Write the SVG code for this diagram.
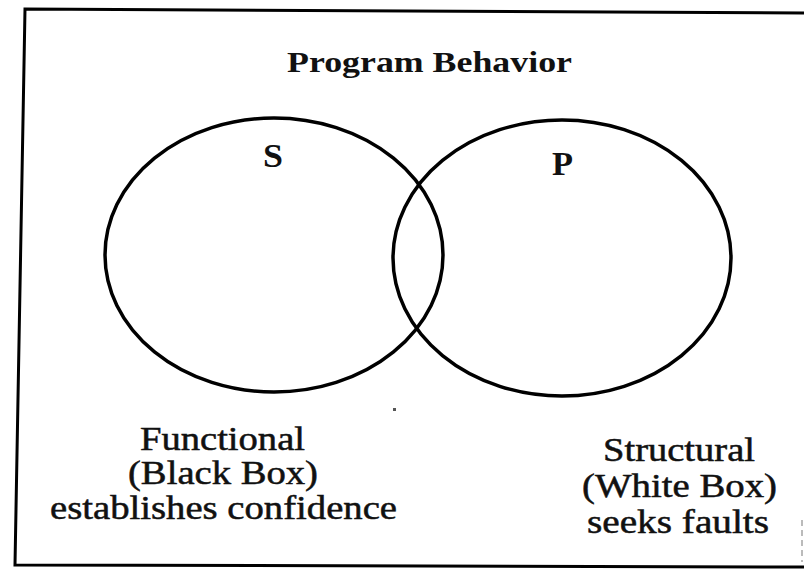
<svg xmlns="http://www.w3.org/2000/svg" width="804" height="570" viewBox="0 0 804 570">
  <style>
    .frame { fill: none; stroke: #000; stroke-width: 3; }
    .faint { fill: none; stroke: #bbb; stroke-width: 2; stroke-dasharray: 6 4; }
    .set { fill: none; stroke: #000; stroke-width: 3.5; }
    .serif { font-family: 'Liberation Serif', serif; fill: #111; }
    .title { font-size: 30px; font-weight: bold; }
    .letter { font-size: 34px; font-weight: bold; }
    .label { font-size: 33px; stroke: #111; stroke-width: 0.5; }
  </style>

  <rect width="804" height="570" fill="#fff"/>

  <!-- outer frame, slightly skewed -->
  <g id="frame">
    <polyline class="frame" points="804,13 25,9 15,565 804,567"/>
    <line class="faint" x1="802" y1="520" x2="802" y2="562"/>
    <rect x="393" y="408" width="3" height="3" fill="#555"/>
  </g>

  <g id="title">
    <text class="serif title" x="287" y="72" textLength="285" lengthAdjust="spacingAndGlyphs">Program Behavior</text>
  </g>

  <!-- specification set S -->
  <g id="set-s">
    <ellipse class="set" cx="274" cy="255" rx="169" ry="137"/>
    <text class="serif letter" x="263" y="167" textLength="20" lengthAdjust="spacingAndGlyphs">S</text>
  </g>

  <!-- program set P -->
  <g id="set-p">
    <ellipse class="set" cx="562" cy="258" rx="169" ry="138"/>
    <text class="serif letter" x="552" y="175" textLength="21" lengthAdjust="spacingAndGlyphs">P</text>
  </g>

  <g id="functional">
    <text class="serif label" x="140" y="450" textLength="165" lengthAdjust="spacingAndGlyphs">Functional</text>
    <text class="serif label" x="128" y="484" textLength="190" lengthAdjust="spacingAndGlyphs">(Black Box)</text>
    <text class="serif label" x="50" y="519" textLength="347" lengthAdjust="spacingAndGlyphs">establishes confidence</text>
  </g>

  <g id="structural">
    <text class="serif label" x="603" y="461" textLength="152" lengthAdjust="spacingAndGlyphs">Structural</text>
    <text class="serif label" x="582" y="497" textLength="195" lengthAdjust="spacingAndGlyphs">(White Box)</text>
    <text class="serif label" x="587" y="533" textLength="182" lengthAdjust="spacingAndGlyphs">seeks faults</text>
  </g>
</svg>
